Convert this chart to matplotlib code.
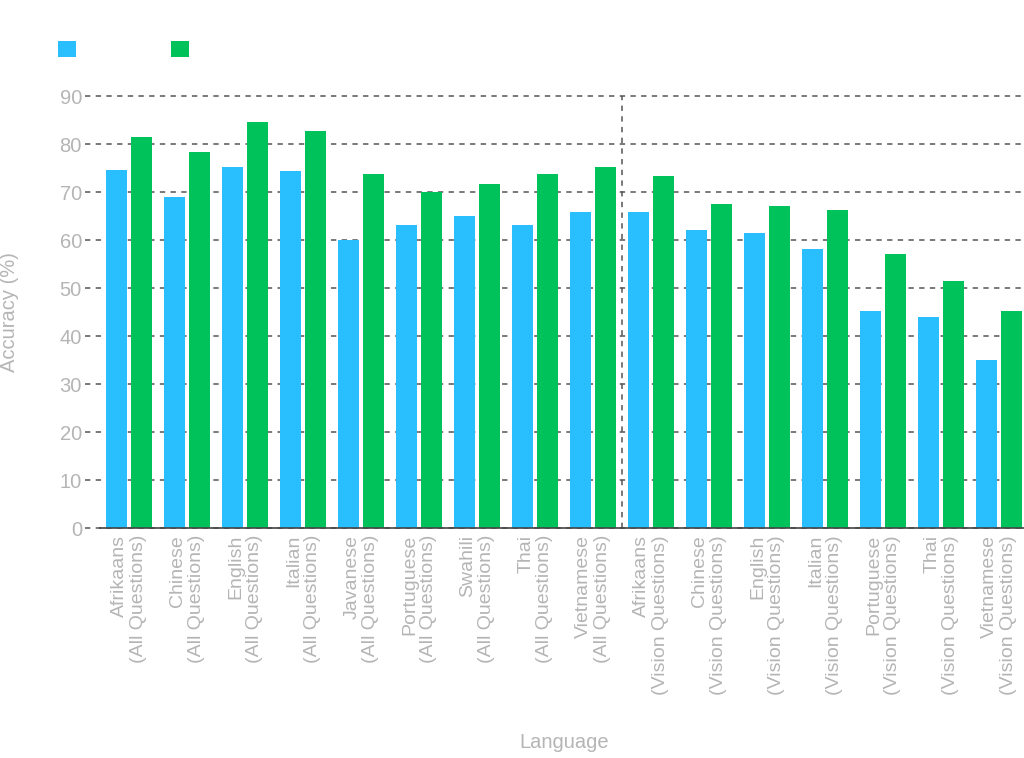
import matplotlib
matplotlib.use("Agg")
import matplotlib.pyplot as plt
import numpy as np

categories = [
    "Afrikaans\n(All Questions)", "Chinese\n(All Questions)", "English\n(All Questions)",
    "Italian\n(All Questions)", "Javanese\n(All Questions)", "Portuguese\n(All Questions)",
    "Swahili\n(All Questions)", "Thai\n(All Questions)", "Vietnamese\n(All Questions)",
    "Afrikaans\n(Vision Questions)", "Chinese\n(Vision Questions)", "English\n(Vision Questions)",
    "Italian\n(Vision Questions)", "Portuguese\n(Vision Questions)", "Thai\n(Vision Questions)",
    "Vietnamese\n(Vision Questions)",
]
series_a = [74.6, 69.0, 75.3, 74.3, 60.0, 63.1, 64.9, 63.1, 65.9,
            65.9, 62.1, 61.5, 58.1, 45.2, 44.0, 34.9]
series_b = [81.5, 78.4, 84.6, 82.8, 73.7, 69.9, 71.6, 73.7, 75.3,
            73.4, 67.4, 67.1, 66.2, 57.1, 51.5, 45.2]
series_names = ["Baseline", "Ours"]
yticks = [0, 10, 20, 30, 40, 50, 60, 70, 80, 90]

plt.rcParams['font.family'] = ['Liberation Sans', 'DejaVu Sans']

BLUE = "#29BFFF"
GREEN = "#00C25A"
TXT = "#B5B5B5"
GRID = "#555555"
FS = 14.5

fig = plt.figure(figsize=(10.24, 7.58), dpi=100)
AX_W = 1028 - 100
ax = fig.add_axes([100/1024, (758-528)/758, AX_W/1024, (528-96)/758])

x = np.arange(len(categories))
w = 0.362
off = 0.207
ax.bar(x - off, series_a, width=w, color=BLUE, label=series_names[0], zorder=3)
ax.bar(x + off, series_b, width=w, color=GREEN, label=series_names[1], zorder=3)

ax.set_xlim(-0.5, len(categories) - 0.5)
ax.set_ylim(0, 90)
ax.set_yticks(yticks)
ax.set_yticklabels([str(t) for t in yticks], fontsize=FS, color=TXT)
ax.tick_params(axis='y', length=0, pad=13)
for yv in yticks:
    ax.axhline(yv, xmin=-15/AX_W, xmax=1, color=GRID, linestyle=(0, (3.5, 3.5)),
               linewidth=1.1, zorder=0.5, clip_on=False)

ax.set_xticks(x)
ax.set_xticklabels(categories, rotation=90, fontsize=14, color=TXT,
                   ha='center', va='top', multialignment='right',
                   linespacing=1.1)
ax.tick_params(axis='x', length=0, pad=5)

for s in ['top', 'right', 'left']:
    ax.spines[s].set_visible(False)
ax.spines['bottom'].set_color("#444444")
ax.spines['bottom'].set_linewidth(1.2)
ax.spines['bottom'].set_zorder(4)

ax.axvline(8.5, ymin=0, ymax=1, color=GRID, linestyle=(0, (3.5, 3.5)), linewidth=1.1, zorder=1)

ax.set_ylabel("Accuracy (%)", fontsize=FS, color=TXT)
ax.yaxis.label.set_va('center')
ax.yaxis.set_label_coords(-90/AX_W, 0.5)
fig.text(564/1024, 1 - 742/758, "Language", fontsize=FS, color=TXT,
         ha='center', va='center')

leg = fig.legend(loc='upper left', bbox_to_anchor=(0.041, 0.968), ncol=2, frameon=False,
                 handlelength=1.0, handleheight=1.0, columnspacing=0.8, fontsize=13,
                 handletextpad=0.6)
for txt in leg.get_texts():
    txt.set_color("white")

fig.savefig("out.png", dpi=100)
